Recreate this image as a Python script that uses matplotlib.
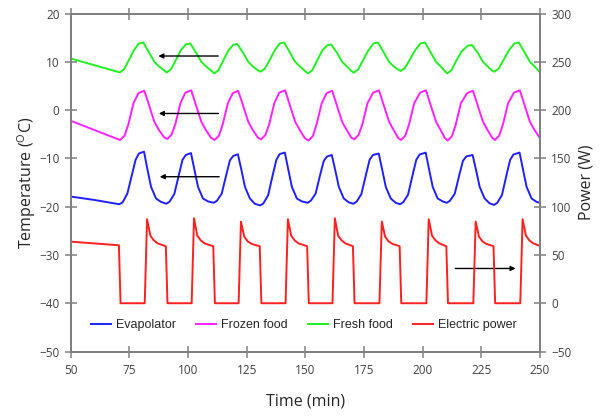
import matplotlib
matplotlib.use("Agg")
import matplotlib.pyplot as plt

# ---------------- data ----------------
fresh_t = [50,
           71.0, 72.8, 74.9, 77.0, 79.1, 81.0, 83.6, 85.7, 87.8, 89.9,
           91.0, 92.8, 94.9, 97.0, 99.1, 101.0, 103.6, 105.7, 107.8, 110.1,
           111.2, 113.0, 115.1, 117.2, 119.3, 121.0, 123.6, 125.7, 127.8, 129.9,
           131.0, 132.8, 134.9, 137.0, 139.1, 141.0, 143.6, 145.7, 147.8, 150.1,
           151.2, 153.0, 155.1, 157.2, 159.3, 161.0, 163.6, 165.7, 167.8, 169.6,
           170.7, 172.5, 174.6, 176.9, 179.1, 181.0, 183.6, 185.7, 187.8, 189.5,
           190.6, 192.4, 194.5, 196.8, 199.1, 201.0, 203.6, 205.7, 207.8, 209.4,
           210.5, 212.3, 214.4, 216.7, 219.1, 221.0, 223.6, 225.7, 227.8, 229.5,
           230.6, 232.4, 234.5, 236.8, 239.1, 241.0, 243.6, 245.7, 247.8, 250]
fresh_T = [10.7,
           7.8, 8.45, 10.4, 12.4, 13.8, 14.0, 11.8, 10.0, 9.0, 8.2,
           7.8, 8.45, 10.4, 12.4, 13.6, 13.8, 11.8, 10.0, 9.0, 8.1,
           7.6, 8.25, 10.3, 12.3, 13.5, 13.7, 11.8, 10.0, 9.0, 8.2,
           7.95, 8.6, 10.4, 12.4, 13.8, 14.0, 11.8, 10.0, 9.0, 8.0,
           7.6, 8.25, 10.3, 12.3, 13.4, 13.6, 11.8, 10.0, 9.0, 8.1,
           7.75, 8.4, 10.3, 12.4, 13.8, 14.0, 11.8, 10.0, 9.0, 8.4,
           8.1, 8.7, 10.4, 12.4, 13.8, 14.0, 11.8, 10.0, 9.0, 8.1,
           7.6, 8.25, 10.3, 12.2, 13.3, 13.5, 11.8, 10.0, 9.0, 8.2,
           7.95, 8.6, 10.4, 12.4, 13.8, 14.0, 11.8, 10.0, 9.0, 7.8]

frozen_t = [50,
            71.1, 73.0, 74.6, 76.8, 78.9, 81.4, 82.8, 84.3, 85.7, 87.5, 89.8,
            91.2, 93.0, 94.6, 96.8, 98.9, 101.4, 102.8, 104.3, 105.7, 107.5, 109.8,
            111.4, 113.2, 114.8, 117.0, 119.1, 121.4, 122.8, 124.3, 125.7, 127.5, 129.8,
            131.2, 133.0, 134.6, 136.8, 138.9, 141.4, 142.8, 144.3, 145.7, 147.5, 149.8,
            151.4, 153.2, 154.8, 157.0, 159.1, 161.4, 162.8, 164.3, 165.7, 167.5, 169.6,
            170.9, 172.7, 174.3, 176.5, 178.9, 181.4, 182.8, 184.3, 185.7, 187.5, 189.6,
            190.8, 192.6, 194.2, 196.4, 198.9, 201.4, 202.8, 204.3, 205.7, 207.5, 209.5,
            210.7, 212.5, 214.1, 216.3, 218.9, 221.4, 222.8, 224.3, 225.7, 227.5, 229.6,
            230.8, 232.6, 234.2, 236.4, 238.9, 241.4, 242.8, 244.3, 245.7, 247.5, 250]
frozen_T = [-2.2,
            -6.2, -5.3, -3.0, 1.4, 3.5, 4.0, 2.0, -0.3, -2.4, -4.0, -5.6,
            -6.0, -5.1, -3.0, 1.4, 3.6, 4.1, 2.0, -0.3, -2.4, -4.0, -5.7,
            -6.2, -5.3, -3.0, 1.4, 3.5, 4.0, 2.0, -0.3, -2.4, -4.0, -5.7,
            -6.05, -5.15, -3.0, 1.4, 3.6, 4.1, 2.0, -0.3, -2.4, -4.0, -5.8,
            -6.3, -5.4, -3.0, 1.4, 3.5, 4.0, 2.0, -0.3, -2.4, -4.0, -5.7,
            -6.05, -5.15, -3.0, 1.4, 3.6, 4.1, 2.0, -0.3, -2.4, -4.0, -5.8,
            -6.2, -5.3, -3.0, 1.4, 3.6, 4.1, 2.0, -0.3, -2.4, -4.0, -5.8,
            -6.3, -5.4, -3.0, 1.4, 3.5, 4.0, 2.0, -0.3, -2.4, -4.0, -5.7,
            -6.2, -5.3, -3.0, 1.4, 3.6, 4.1, 2.0, -0.3, -2.4, -4.0, -5.8]

evap_t = [50, 60, 70.8,
          72.2, 74.2, 76.3, 77.7, 79.1, 81.3, 82.8, 84.3, 86.4, 88.5,
          90.8, 92.2, 94.2, 96.3, 97.7, 99.1, 101.3, 102.8, 104.3, 106.4, 108.5,
          111.0, 112.4, 114.4, 116.5, 117.9, 119.3, 121.3, 122.8, 124.3, 126.4, 128.5,
          130.8, 132.2, 134.2, 136.3, 137.7, 139.1, 141.3, 142.8, 144.3, 146.4, 148.5,
          151.0, 152.4, 154.4, 156.5, 157.9, 159.3, 161.3, 162.8, 164.3, 166.4, 168.5,
          170.5, 171.9, 173.9, 176.0, 177.4, 178.8, 181.3, 182.8, 184.3, 186.4, 188.5,
          190.4, 191.8, 193.8, 195.9, 197.3, 198.7, 201.3, 202.8, 204.3, 206.4, 208.5,
          210.3, 211.7, 213.7, 215.8, 217.2, 218.6, 221.3, 222.8, 224.3, 226.4, 228.5,
          230.4, 231.8, 233.8, 235.9, 237.3, 238.7, 241.3, 242.8, 244.3, 246.4, 248.5, 250]
evap_T = [-17.9, -18.6, -19.5,
          -19.1, -17.3, -13.1, -10.3, -9.0, -8.6, -12.4, -15.9, -18.3, -19.0,
          -19.4, -18.95, -17.4, -13.1, -10.3, -9.3, -8.9, -12.4, -15.9, -18.3, -18.9,
          -19.2, -18.75, -17.3, -13.1, -10.4, -9.5, -9.15, -12.4, -15.9, -18.3, -19.4,
          -19.75, -19.3, -17.6, -13.1, -10.3, -9.1, -8.8, -12.4, -15.9, -18.3, -18.9,
          -19.2, -18.75, -17.3, -13.1, -10.5, -9.6, -9.3, -12.5, -15.9, -18.3, -19.1,
          -19.4, -18.95, -17.4, -13.1, -10.3, -9.3, -9.0, -12.4, -15.9, -18.3, -19.2,
          -19.5, -19.05, -17.5, -13.1, -10.3, -9.2, -8.8, -12.4, -15.9, -18.3, -18.9,
          -19.2, -18.75, -17.3, -13.1, -10.5, -9.6, -9.3, -12.5, -15.9, -18.3, -19.3,
          -19.65, -19.2, -17.6, -13.1, -10.3, -9.2, -8.8, -12.4, -15.9, -18.3, -19.0, -19.2]

power_t = [50, 70.6, 71.3,
           81.6, 82.6, 84.0, 85.5, 87.1, 90.6, 91.3,
           101.6, 102.6, 104.0, 105.5, 107.1, 110.8, 111.5,
           121.6, 122.6, 124.0, 125.5, 127.1, 130.6, 131.3,
           141.6, 142.6, 144.0, 145.5, 147.1, 150.8, 151.5,
           161.6, 162.6, 164.0, 165.5, 167.1, 170.3, 171.0,
           181.6, 182.6, 184.0, 185.5, 187.1, 190.2, 190.9,
           201.6, 202.6, 204.0, 205.5, 207.1, 210.1, 210.8,
           221.6, 222.6, 224.0, 225.5, 227.1, 230.2, 230.9,
           241.6, 242.6, 244.0, 245.5, 247.1, 250]
power_W = [63.8, 60, 0,
           0, 87, 70, 65, 62, 59, 0,
           0, 88, 70, 65, 62, 59, 0,
           0, 84.5, 69, 64, 61.5, 59, 0,
           0, 87, 70, 65, 62, 59, 0,
           0, 88, 70, 65, 62, 59, 0,
           0, 84.6, 69, 64, 61.5, 59, 0,
           0, 87, 70, 65, 62, 59, 0,
           0, 84.6, 69, 64, 61.5, 59, 0,
           0, 87, 70, 65, 62, 59.4]

x_ticks = [50, 75, 100, 125, 150, 175, 200, 225, 250]
temp_ticks = [-50, -40, -30, -20, -10, 0, 10, 20]
power_ticks = [-50, 0, 50, 100, 150, 200, 250, 300]

# ---------------- plotting ----------------
fig = plt.figure(figsize=(6.03, 4.16), dpi=100)
ax = fig.add_axes([0.117, 0.155, 0.7785, 0.8125])
ax2 = ax.twinx()

spine_c = '#808080'
lab_c = '#404040'
lw = 1.4

l1, = ax.plot(evap_t, evap_T, color='#2020ff', lw=lw, label='Evapolator')
l2, = ax.plot(frozen_t, frozen_T, color='#ff22ff', lw=lw, label='Frozen food')
l3, = ax.plot(fresh_t, fresh_T, color='#22ee22', lw=lw, label='Fresh food')
l4, = ax2.plot(power_t, power_W, color='#ff2020', lw=lw, label='Electric power')

ax.set_xlim(50, 250)
ax.set_ylim(-50, 20)
ax2.set_ylim(-50, 300)
ax.set_xticks(x_ticks)
ax.set_yticks(temp_ticks)
ax2.set_yticks(power_ticks)

tick_font = 'Open Sans'
for a in (ax, ax2):
    for s in a.spines.values():
        s.set_color(spine_c)
        s.set_linewidth(1.3)
ax.tick_params(axis='x', which='both', direction='inout', length=8, width=1.1,
               color=spine_c, top=True, labelcolor=lab_c, labelsize=8.5, pad=5)
ax.tick_params(axis='y', direction='inout', length=8, width=1.1, color=spine_c,
               labelcolor=lab_c, labelsize=8.5, pad=4)
ax2.tick_params(axis='y', direction='inout', length=8, width=1.1, color=spine_c,
                labelcolor=lab_c, labelsize=8.5, pad=4)
for lab in ax.get_xticklabels() + ax.get_yticklabels() + ax2.get_yticklabels():
    lab.set_fontfamily(tick_font)

ax.set_xlabel('Time (min)', fontsize=11.5, family=tick_font, color='#262626', labelpad=12)
ax.set_ylabel('Temperature ($\\mathregular{^{O}}$C)', fontsize=11.5, family=tick_font,
              color='#262626', labelpad=1)
ax2.set_ylabel('Power (W)', fontsize=11.5, family=tick_font, color='#262626', labelpad=5)

leg = ax.legend(handles=[l1, l2, l3, l4], loc='center', bbox_to_anchor=(0.497, 0.078),
                ncol=4, frameon=False, prop={'family': 'Liberation Sans', 'size': 9},
                handlelength=1.6, handletextpad=0.4, columnspacing=1.6)
for t in leg.get_texts():
    t.set_color('#262626')

arrow_kw = dict(arrowstyle='-|>', color='black', lw=1.0, mutation_scale=7,
                shrinkA=0, shrinkB=0)
ax.annotate('', xy=(87.4, 11.2), xytext=(112.9, 11.2), arrowprops=arrow_kw)
ax.annotate('', xy=(87.6, -0.7), xytext=(113.0, -0.7), arrowprops=arrow_kw)
ax.annotate('', xy=(88.0, -13.8), xytext=(113.3, -13.8), arrowprops=arrow_kw)
ax.annotate('', xy=(239.6, -32.8), xytext=(213.9, -32.8), arrowprops=arrow_kw)

fig.savefig('out.png', dpi=100)
